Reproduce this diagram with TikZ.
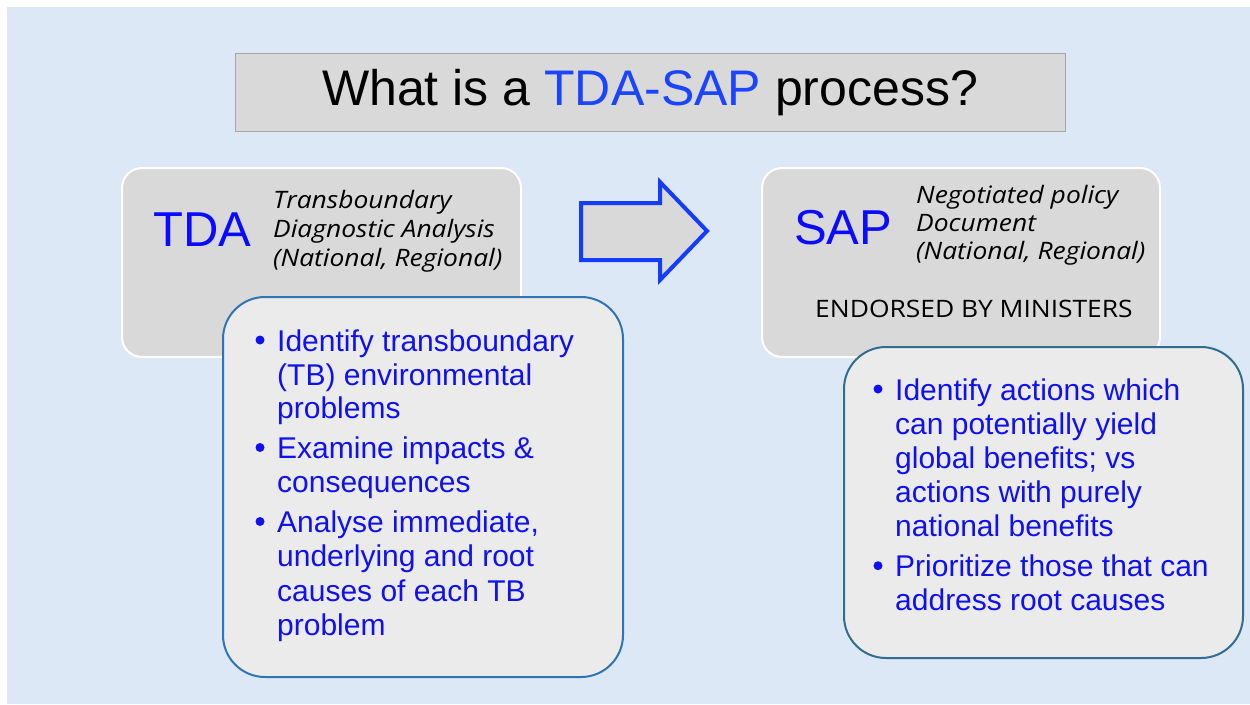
\documentclass[tikz,border=0pt]{standalone}
\usepackage{fontspec}
\setmainfont{Liberation Sans}
\newfontfamily\handfont{Open Sans}[FakeStretch=1.1]
\definecolor{bgblue}{HTML}{DCE8F5}
\definecolor{boxgray}{HTML}{D9D9D9}
\definecolor{listgray}{HTML}{EBEBEB}
\definecolor{titleborder}{HTML}{A6A6A6}
\definecolor{tdaborder}{HTML}{2E75B6}
\definecolor{sapborder}{HTML}{2F6E90}
\definecolor{arrowblue}{HTML}{143CFF}
\definecolor{textblue}{HTML}{1010F0}
\definecolor{labelblue}{HTML}{0A0AFF}
\definecolor{titleblue}{HTML}{1A44FF}
\begin{document}
\begin{tikzpicture}[x=1pt,y=-1pt,
  graybox/.style={draw=white, line width=2pt, fill=boxgray, rounded corners=20pt, inner sep=0pt},
  listbox/.style={line width=2pt, fill=listgray, rounded corners=42pt, inner sep=0pt},
  bul/.style={anchor=base west, inner sep=0pt, text=textblue, font=\fontsize{30}{34}\selectfont},
  dot/.style={circle, fill=textblue, inner sep=0pt, minimum size=9pt},
  hw/.style={anchor=base west, inner sep=0pt, font=\handfont\itshape\fontsize{24}{28}\selectfont},
  biglabel/.style={anchor=base west, inner sep=0pt, text=labelblue, font=\fontsize{49}{55}\selectfont}
]
\useasboundingbox (0,0) rectangle (1250,704);
\fill[white] (0,0) rectangle (1250,704);
\fill[bgblue] (7,7) rectangle (1250,704);

% title
\node[draw=titleborder, fill=boxgray, line width=1pt, minimum width=830pt, minimum height=78pt, inner sep=0pt] (titlebox) at (650,92) {};
\node[anchor=base, inner sep=0pt, font=\fontsize{50}{56}\selectfont] (title) at (650,105) {What is a \textcolor{titleblue}{TDA-SAP} process?};

% TDA box
\node[graybox, minimum width=399pt, minimum height=189pt] (tdabox) at (321.5,262.5) {};
\node[biglabel] (tda) at (153,246) {TDA};
\node[hw] (tda1) at (273,208) {Transboundary};
\node[hw] (tda2) at (273,237) {Diagnostic Analysis};
\node[hw] (tda3) at (273,266) {(National, Regional)};

% SAP box
\node[graybox, minimum width=398pt, minimum height=189pt] (sapbox) at (961,262.5) {};
\node[biglabel] (sap) at (794,244) {SAP};
\node[hw] (sap1) at (916,203) {Negotiated policy};
\node[hw] (sap2) at (916,231) {Document};
\node[hw] (sap3) at (916,259) {(National, Regional)};
\node[hw, font=\handfont\fontsize{24}{28}\selectfont] (sap4) at (815,317) {ENDORSED BY MINISTERS};

% arrow
\draw[arrowblue, line width=4pt, fill=boxgray, line join=miter]
  (581,203) -- (660,203) -- (660,182) -- (707,231) -- (660,280) -- (660,260) -- (581,260) -- cycle;

% TDA list
\node[listbox, draw=tdaborder, minimum width=400pt, minimum height=380pt] (tdalist) at (423,487) {};
\node[dot] (td1) at (260,340) {};
\node[dot] (td2) at (260,447.5) {};
\node[dot] (td3) at (260,521.5) {};
\node[bul] (l1) at (277,351) {Identify transboundary};
\node[bul] (l2) at (277,385) {(TB) environmental};
\node[bul] (l3) at (277,418.5) {problems};
\node[bul] (l4) at (277,458.5) {Examine impacts \&};
\node[bul] (l5) at (277,492.5) {consequences};
\node[bul] (l6) at (277,532.5) {Analyse immediate,};
\node[bul] (l7) at (277,566.5) {underlying and root};
\node[bul] (l8) at (277,601) {causes of each TB};
\node[bul] (l9) at (277,635) {problem};

% SAP list
\node[listbox, draw=sapborder, minimum width=399pt, minimum height=311pt] (saplist) at (1043.5,502.5) {};
\node[dot] (sd1) at (878,389) {};
\node[dot] (sd2) at (878,565.7) {};
\node[bul] (m1) at (895,400) {Identify actions which};
\node[bul] (m2) at (895,434.3) {can potentially yield};
\node[bul] (m3) at (895,468.3) {global benefits; vs};
\node[bul] (m4) at (895,502.3) {actions with purely};
\node[bul] (m5) at (895,536.7) {national benefits};
\node[bul] (m6) at (895,576.7) {Prioritize those that can};
\node[bul] (m7) at (895,610) {address root causes};
\end{tikzpicture}
\end{document}
